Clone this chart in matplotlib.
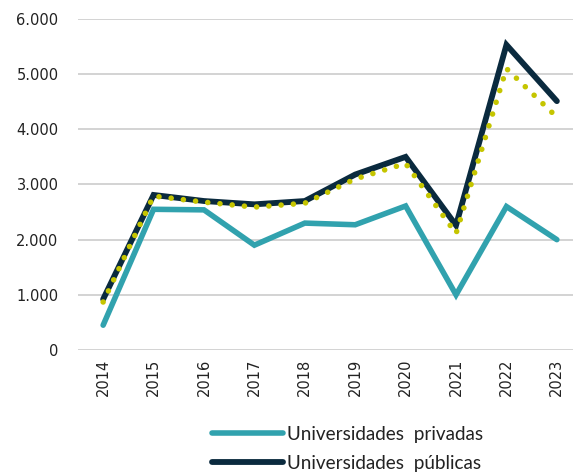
import matplotlib
matplotlib.use("Agg")
import matplotlib.pyplot as plt
from matplotlib.ticker import FuncFormatter, MultipleLocator

years = [2014, 2015, 2016, 2017, 2018, 2019, 2020, 2021, 2022, 2023]
privadas = [450, 2550, 2540, 1900, 2300, 2270, 2610, 1000, 2600, 2000]
publicas = [920, 2810, 2700, 2640, 2700, 3180, 3500, 2260, 5530, 4510]
tendencia = [870, 2790, 2680, 2590, 2660, 3100, 3380, 2110, 5100, 4220]

c_priv = "#31A2AE"
c_pub = "#0A2A3E"
c_dot = "#C5C500"

fig = plt.figure(figsize=(5.73, 4.73), dpi=100)
ax = fig.add_axes([0.136, 0.26, 0.864, 0.70])

l1, = ax.plot(years, privadas, color=c_priv, lw=4.0, solid_capstyle="round",
              solid_joinstyle="miter", label="Universidades  privadas")
l2, = ax.plot(years, publicas, color=c_pub, lw=4.2, solid_capstyle="round",
              solid_joinstyle="miter", label="Universidades  públicas")
ax.plot(years, tendencia, color=c_dot, lw=4.0, linestyle=(0, (0.01, 2.2)),
        dash_capstyle="round")

ax.set_ylim(0, 6000)
ax.set_xlim(2013.5, 2023.32)
ax.yaxis.set_major_locator(MultipleLocator(1000))
ax.yaxis.set_major_formatter(FuncFormatter(lambda v, p: f"{int(v):,}".replace(",", ".")))
ax.set_xticks(years)
ax.set_xticklabels([str(y) for y in years], rotation=90)
ax.grid(axis="y", color="#CCCCCC", lw=1.2)
ax.set_axisbelow(True)
for s in ax.spines.values():
    s.set_visible(False)
ax.tick_params(length=0, labelsize=10.5, colors="#222222", pad=6)
ax.tick_params(axis="y", pad=14)

fig.legend(handles=[l1, l2], loc="lower left", bbox_to_anchor=(0.34, -0.034),
           frameon=False, handlelength=3.75, handletextpad=0.25,
           labelspacing=0.66, labelcolor="#222222",
           prop={"family": "Lato", "size": 13.6})

fig.savefig("out.png", dpi=100)
